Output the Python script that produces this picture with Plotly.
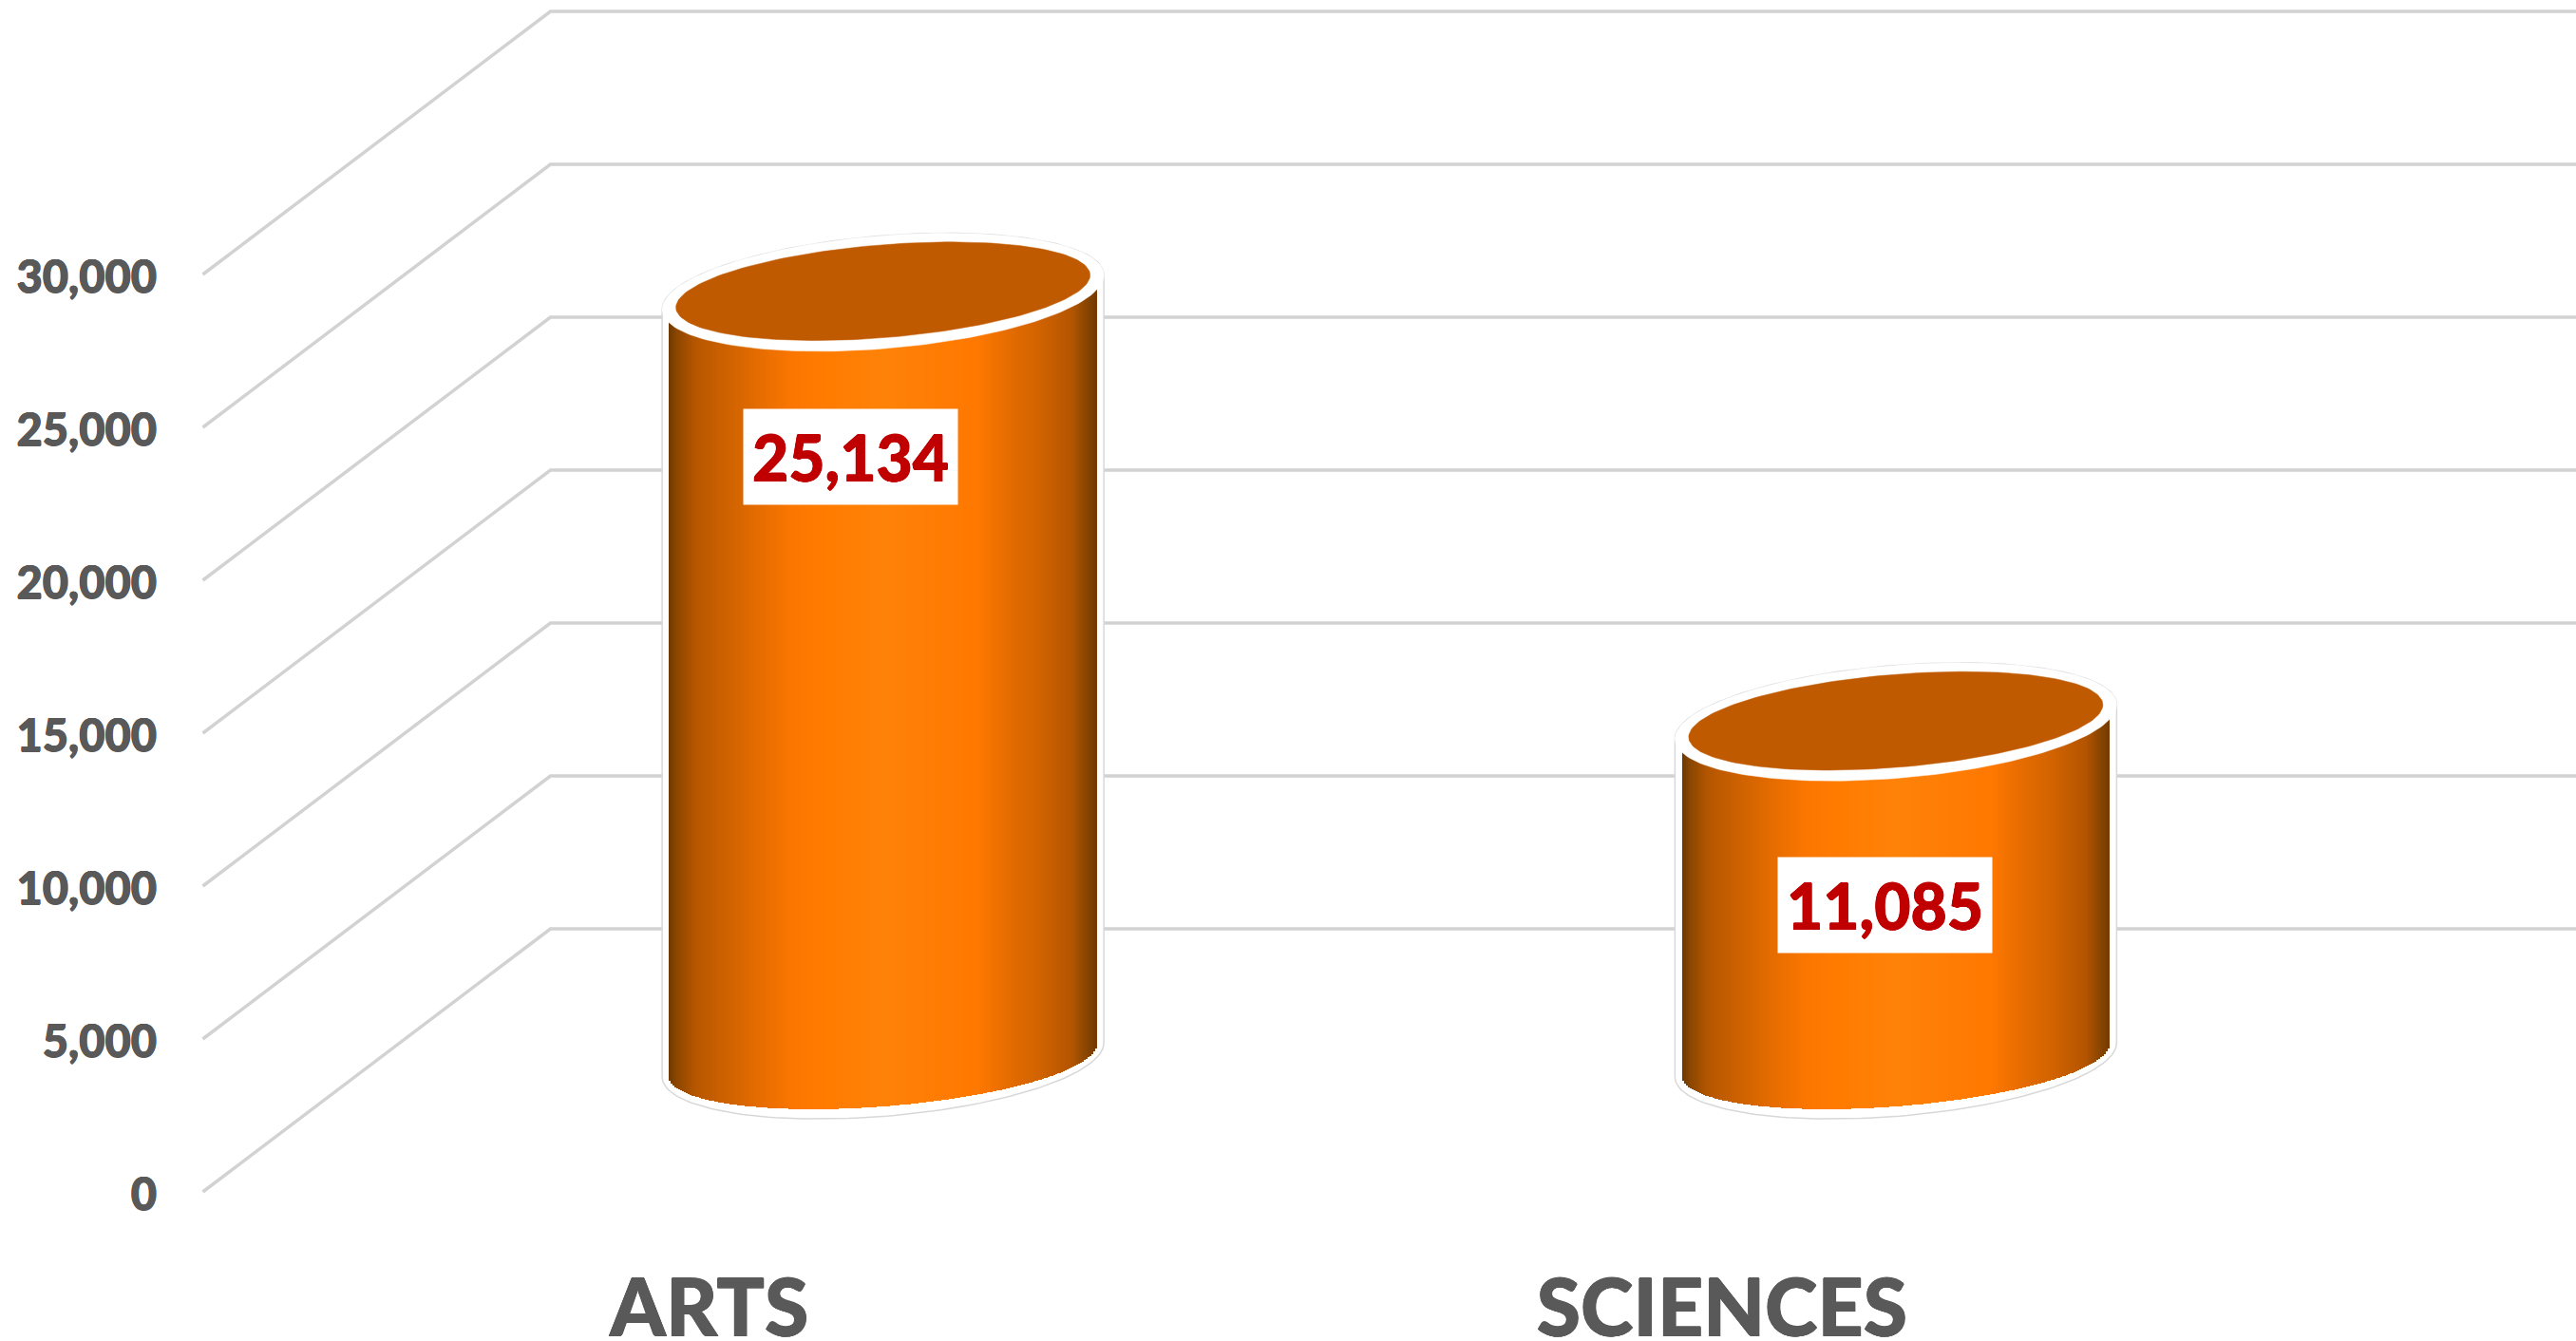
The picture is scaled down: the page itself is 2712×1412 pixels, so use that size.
import numpy as np
import plotly.graph_objects as go

categories = ["ARTS", "SCIENCES"]
values = [25134, 11085]
y_ticks = [0, 5000, 10000, 15000, 20000, 25000, 30000]

W, H = 2712, 1412
L_M, B_PX = 166, 1300          # plot area left edge and bottom edge, in pixels
Y0_PX = 1255                   # pixel row of value 0 on the front edge
U = 5000 / 161                 # value units per pixel
DX, DY = 366, 277              # depth of the floor, in pixels
X_LEFT = 213.5
CAT_W = (W - DX - X_LEFT) / len(categories)
BASE_PX = 139                  # cylinder base centre above the front edge
CY_X_OFF = 183

GRID = "#d2d2d2"
TXT = "#595959"
RED = "#C00000"
STOPS = [(0, "#6e3800"), (.018, "#8a4600"), (.062, "#b65600"), (.138, "#cf6200"),
         (.21, "#e56c00"), (.285, "#fa7600"), (.36, "#ff7b00"), (.5, "#ff8208"),
         (.722, "#ff7800"), (.796, "#e56c00"), (.87, "#d06200"), (.944, "#b35400"),
         (.973, "#8e4700"), (1, "#733a00")]
LABEL_Y = [481, 953]           # pixel centre of each value box
LABEL_DX = [-34.5, -11.5]      # box centre relative to the cylinder axis


def heavy(c, r=0.5):
    """Text shadow that thickens the glyphs to the reference's weight."""
    return f"{r}px 0 {c}, -{r}px 0 {c}, 0 {r}px {c}, 0 -{r}px {c}"


def rgb(h):
    return np.array([int(h[i:i + 2], 16) for i in (1, 3, 5)], float)


def grad(f):
    fs = [s[0] for s in STOPS]
    cs = np.array([rgb(s[1]) for s in STOPS])
    c = [np.interp(f, fs, cs[:, i]) for i in range(3)]
    return "rgb(%d,%d,%d)" % tuple(round(v) for v in c)


def ell(cx, cy, a, b, K, t):
    """Sheared ellipse; cy in value units, a and offsets in pixels."""
    return cx + a * np.cos(t), cy + (b * np.sin(t) + K * np.cos(t)) * U


fig = go.Figure()

# floor and back-wall grid lines
for v in y_ticks:
    fig.add_trace(go.Scatter(
        x=[X_LEFT, X_LEFT + DX, W], y=[v, v + DY * U, v + DY * U], mode="lines",
        line=dict(color=GRID, width=3.5), hoverinfo="skip", showlegend=False))

upper = np.linspace(np.pi, 0, 90)
lower = np.linspace(0, -np.pi, 90)
for i, v in enumerate(values):
    cx = X_LEFT + CAT_W * (i + .5) + CY_X_OFF
    base = BASE_PX * U
    top = base + v

    # white halo with thin grey rim behind each cylinder
    x1, y1 = ell(cx, top - U, 232.5, 59.5, 18, upper)
    x2, y2 = ell(cx, base, 232.5, 59.5, 18, lower)
    fig.add_trace(go.Scatter(
        x=np.r_[x1, x2, x1[0]], y=np.r_[y1, y2, y1[0]], mode="lines", fill="toself",
        fillcolor="white", line=dict(color="#d8d8d8", width=1.5),
        hoverinfo="skip", showlegend=False))

    # cylinder body: vertical gradient strips, from the base curve up to the value
    xs = np.arange(cx - 225 + 1, cx + 225, 2.0)
    fr = (xs - (cx - 225)) / 450
    cos_t = (xs - cx) / 225
    sin_t = np.sqrt(1 - cos_t ** 2)
    bottoms = base + (-49 * sin_t + 17 * cos_t) * U
    tops = top + 17 * cos_t * U
    fig.add_trace(go.Bar(
        x=xs, y=tops - bottoms, base=bottoms, width=2.6, yaxis="y2",
        marker=dict(color=[grad(f) for f in fr], line=dict(width=0)),
        hoverinfo="skip", showlegend=False))

    # white rim and dark top face
    t = np.linspace(0, 2 * np.pi, 180)
    x3, y3 = ell(cx, top - U, 232.5, 59.5, 18, t)
    fig.add_trace(go.Scatter(
        x=x3, y=y3, yaxis="y2", mode="lines", fill="toself", fillcolor="white",
        line=dict(color="white", width=0.5), hoverinfo="skip", showlegend=False))
    x4, y4 = ell(cx, top, 218, 49, 17, t)
    fig.add_trace(go.Scatter(
        x=x4, y=y4, yaxis="y2", mode="lines", fill="toself", fillcolor="#c05a00",
        line=dict(color="#c05a00", width=0.5), hoverinfo="skip", showlegend=False))

    fig.add_annotation(
        x=cx + LABEL_DX[i], y=(Y0_PX - LABEL_Y[i]) * U, yref="y", xref="x",
        text=f"{v:,}", showarrow=False, bgcolor="white", width=223, height=98,
        align="center", valign="middle",
        font=dict(family="Lato", size=66, color=RED, weight=900, shadow=heavy(RED)))

yr = [(Y0_PX - B_PX) * U, Y0_PX * U]
fig.update_layout(
    width=W, height=H, margin=dict(l=L_M, r=0, t=0, b=H - B_PX, pad=0),
    paper_bgcolor="white", plot_bgcolor="white", barmode="overlay", bargap=0,
    showlegend=False, hovermode=False,
    font=dict(family="Lato", color=TXT),
    xaxis=dict(range=[L_M, W], showgrid=False, zeroline=False, showline=False,
               automargin=False, tickmode="array",
               tickvals=[X_LEFT + CAT_W * (i + .5) for i in range(len(categories))],
               ticktext=categories,
               ticks="outside", ticklen=5, tickcolor="rgba(0,0,0,0)",
               tickfont=dict(family="Lato", size=84, color=TXT, weight=900,
                             shadow=heavy(TXT))),
    yaxis=dict(range=yr, showgrid=False, zeroline=False, showline=False,
               automargin=False, tickmode="array",
               tickvals=[v - 3 * U for v in y_ticks],
               ticktext=[f"{v:,}" for v in y_ticks],
               ticks="", ticklen=0,
               tickfont=dict(family="Lato", size=47, color=TXT, weight=900,
                             shadow=heavy(TXT))),
    yaxis2=dict(range=yr, overlaying="y", visible=False, automargin=False),
)

fig.write_html("out.html", config=dict(displayModeBar=False),
               post_script="document.body.style.margin='0';")
